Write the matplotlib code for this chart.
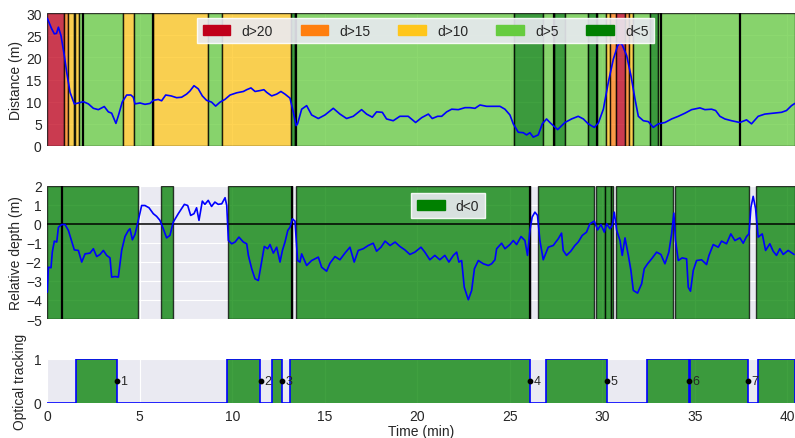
import numpy as np
import matplotlib
matplotlib.use("Agg")
import matplotlib.pyplot as plt
from matplotlib.patches import Patch
import seaborn as sns

sns.set_style("darkgrid")
plt.rcParams['font.family'] = ['Liberation Sans', 'DejaVu Sans']
plt.rcParams['axes.unicode_minus'] = True

# ---------------- data ----------------
dist_t = [0.0, 0.24, 0.38, 0.5, 0.6, 0.74, 0.92, 1.05, 1.23, 1.46, 1.68, 1.95, 2.22, 2.49, 2.76,
          3.08, 3.3, 3.48, 3.71, 3.84, 4.05, 4.29, 4.52, 4.65, 4.74, 5.01, 5.28, 5.55, 5.73, 6.0,
          6.18, 6.4, 6.69, 6.99, 7.26, 7.53, 7.71, 7.93, 8.16, 8.38, 8.61, 8.88, 9.1, 9.34, 9.6,
          9.88, 10.24, 10.6, 10.78, 11.01, 11.23, 11.5, 11.71, 11.86, 12.13, 12.4, 12.63, 12.85,
          13.12, 13.3, 13.45, 13.53, 13.75, 14.02, 14.29, 14.65, 15.01, 15.46, 15.82, 16.18,
          16.54, 16.99, 17.26, 17.57, 17.8, 18.11, 18.34, 18.7, 19.06, 19.51, 19.91, 20.24, 20.6,
          20.81, 21.1, 21.32, 21.59, 21.86, 22.22, 22.58, 22.85, 23.12, 23.39, 23.75, 24.11,
          24.47, 24.74, 25.01, 25.19, 25.46, 25.73, 25.91, 26.09, 26.27, 26.54, 26.76, 26.99,
          27.17, 27.59, 27.98, 28.34, 28.7, 28.98, 29.24, 29.57, 29.79, 30.06, 30.33, 30.6,
          30.83, 30.95, 31.08, 31.32, 31.55, 31.77, 31.95, 32.22, 32.49, 32.76, 33.03, 33.39,
          33.75, 34.11, 34.47, 34.83, 35.28, 35.55, 35.91, 36.13, 36.36, 36.63, 36.99, 37.44,
          37.8, 38.07, 38.43, 38.79, 39.24, 39.69, 39.96, 40.23, 40.41]
dist_d = [28.8, 26.4, 25.3, 25.4, 26.8, 24.9, 20.4, 16.6, 12.1, 9.5, 9.7, 10.0, 9.5, 8.5, 8.2,
          8.9, 7.7, 7.4, 5.1, 6.8, 9.9, 11.5, 11.5, 11.0, 9.5, 9.7, 9.4, 9.6, 10.3, 10.5,
          10.2, 11.5, 11.3, 10.9, 11.0, 11.7, 12.4, 13.6, 12.9, 11.3, 10.3, 9.9, 9.0, 9.9, 10.5,
          11.5, 12.0, 12.3, 12.7, 13.1, 12.3, 12.5, 12.7, 12.1, 11.3, 11.7, 12.3, 11.7,
          10.8, 7.6, 4.6, 5.0, 8.3, 9.1, 7.0, 6.2, 7.0, 8.5, 7.2, 6.2,
          6.7, 8.2, 7.2, 6.5, 7.7, 7.6, 6.1, 5.7, 6.7, 6.7, 5.3, 6.4, 7.2,
          6.2, 6.7, 6.7, 7.7, 8.3, 8.2, 8.65, 8.65, 8.5, 9.25, 8.95, 8.95,
          8.95, 8.3, 7.0, 5.0, 3.1, 3.0, 2.5, 3.0, 2.0, 2.5, 5.0, 6.1,
          5.3, 3.7, 5.3, 6.1, 6.7, 6.1, 5.0, 4.2, 5.2, 8.3, 14.4, 19.6,
          22.6, 23.3, 22.8, 20.4, 15.9, 10.6, 6.7, 5.7, 5.5, 4.2, 5.0, 5.3,
          6.1, 6.7, 7.4, 8.2, 8.6, 8.2, 8.3, 8.0, 6.7, 6.1, 5.7, 5.3,
          5.9, 5.0, 6.7, 7.2, 7.4, 7.6, 8.0, 9.1, 9.6]

depth_t = [0.0, 0.06, 0.2, 0.27, 0.38, 0.51, 0.6, 0.78, 0.96, 1.14, 1.28, 1.46, 1.68, 1.86, 2.04,
           2.31, 2.49, 2.67, 2.85, 3.03, 3.21, 3.39, 3.48, 3.66, 3.84, 4.02, 4.2, 4.38, 4.47,
           4.6, 4.74, 4.92, 5.1, 5.28, 5.5, 5.73, 5.91, 6.09, 6.27, 6.45, 6.63, 6.81, 7.08, 7.41,
           7.59, 7.75, 7.93, 8.07, 8.2, 8.38, 8.52, 8.7, 8.88, 9.06, 9.24, 9.43, 9.61, 9.7, 9.79,
           9.97, 10.15, 10.36, 10.6, 10.78, 10.87, 11.05, 11.23, 11.41, 11.55, 11.73, 11.91,
           12.04, 12.22, 12.4, 12.58, 12.71, 12.85, 13.0, 13.12, 13.25, 13.39, 13.53, 13.66,
           13.75, 14.02, 14.29, 14.65, 14.83, 15.1, 15.28, 15.55, 15.82, 16.09, 16.36, 16.59,
           16.81, 17.08, 17.35, 17.62, 17.8, 18.04, 18.26, 18.53, 18.8, 19.06, 19.33, 19.6,
           19.87, 20.2, 20.41, 20.68, 20.95, 21.22, 21.49, 21.71, 21.95, 22.13, 22.25, 22.4,
           22.54, 22.76, 22.94, 23.09, 23.3, 23.57, 23.84, 24.02, 24.2, 24.29, 24.56, 24.74,
           25.01, 25.19, 25.37, 25.61, 25.82, 25.96, 26.09, 26.21, 26.36, 26.5, 26.63, 26.81,
           27.08, 27.35, 27.62, 27.8, 27.89, 28.07, 28.3, 28.52, 28.7, 28.92, 29.15, 29.33,
           29.57, 29.75, 29.93, 30.11, 30.24, 30.42, 30.54, 30.65, 30.78, 30.96, 31.08, 31.23,
           31.41, 31.55, 31.68, 31.91, 32.13, 32.27, 32.45, 32.67, 32.94, 33.17, 33.39, 33.6,
           33.75, 33.87, 33.96, 34.11, 34.32, 34.56, 34.65, 34.77, 34.92, 35.1, 35.37, 35.64,
           35.77, 36.0, 36.27, 36.45, 36.72, 36.95, 37.17, 37.44, 37.62, 37.8, 37.93, 38.04,
           38.16, 38.29, 38.43, 38.65, 38.83, 39.06, 39.24, 39.42, 39.6, 39.78, 40.05, 40.37]
depth_r = [-3.59, -2.28, -2.31, -1.49, -0.91, -0.96, -0.18, -0.04, -0.04, -0.35, -0.79, -1.37,
           -1.4, -2.01, -1.58, -1.54, -1.31, -1.72, -1.61, -1.4, -1.66, -1.79, -2.8, -2.77, -2.8,
           -1.4, -0.67, -0.35, -0.26, -0.84, -0.56, 0.18, 0.96, 0.96, 0.84, 0.53, 0.39, 0.18,
           -0.26, -0.74, -0.61, 0.09, 0.53, 1.02, 0.96, 0.44, 0.53, 0.84, 0.18, 1.19, 1.02, 1.23,
           0.91, 1.14, 1.02, 1.05, 1.37, 0.96, -0.88, -1.05, -0.96, -0.7, -0.96, -1.05, -1.66,
           -2.36, -2.89, -2.98, -2.19, -1.19, -1.31, -1.09, -1.54, -1.23, -2.01, -1.4, -0.96,
           -0.35, -0.18, 0.26, 0.14, -1.93, -2.01, -1.58, -2.19, -1.93, -1.75, -2.28, -2.49,
           -2.07, -1.72, -1.89, -1.54, -1.23, -2.01, -1.4, -1.31, -1.14, -1.02, -1.44, -1.23,
           -0.91, -1.14, -0.96, -1.19, -1.37, -1.61, -1.49, -1.23, -1.49, -1.89, -1.66, -1.89,
           -1.66, -2.01, -1.66, -1.49, -2.01, -1.93, -3.33, -3.99, -3.5, -2.36, -1.93, -2.1,
           -2.19, -2.1, -1.89, -1.31, -1.02, -1.31, -1.09, -0.88, -1.09, -0.67, -0.88, -1.66,
           -0.35, 0.35, 0.61, 0.44, -0.88, -1.89, -1.23, -1.14, -0.79, -0.49, -1.4, -1.66, -1.44,
           -1.14, -0.96, -0.61, -0.44, 0.0, 0.14, -0.32, -0.04, -0.44, 0.0, -0.26, -0.09, 0.61,
           -0.35, -0.88, -1.66, -0.74, -1.66, -2.45, -3.5, -3.64, -3.15, -2.36, -2.1, -1.84,
           -1.49, -1.61, -2.1, -1.49, -0.53, 0.56, -0.88, -1.93, -1.79, -1.84, -3.33, -3.54,
           -2.45, -1.93, -1.89, -2.14, -1.66, -1.09, -1.23, -0.91, -1.05, -0.53, -0.88, -0.74,
           -1.02, -0.67, -0.53, 0.88, 1.44, 0.79, -0.7, -0.53, -1.4, -1.05, -1.44, -1.66, -1.31,
           -1.61, -1.4, -1.61]

categories = ['d>20', 'd>15', 'd>10', 'd>5', 'd<5']
cat_colors = ['#C0001A', '#FF7F0E', '#FFC61A', '#66CC3F', '#008000']

dist_span_start = [0.0, 0.92, 1.12, 1.42, 1.52, 1.73, 4.11, 4.70, 5.72, 8.70, 9.43, 13.15,
                   13.40, 25.23, 26.78, 27.37, 27.98, 29.24, 29.74, 30.18, 30.42, 30.72,
                   31.23, 31.44, 31.68, 32.56, 33.03]
dist_span_end = [0.92, 1.12, 1.42, 1.52, 1.73, 4.11, 4.70, 5.72, 8.70, 9.43, 13.15, 13.40,
                 25.23, 26.78, 27.37, 27.98, 29.24, 29.74, 30.18, 30.42, 30.72, 31.23,
                 31.44, 31.68, 32.56, 33.03, 40.42]
dist_span_cat = ['d>20', 'd>15', 'd>10', 'd>5', 'd>10', 'd>5', 'd>10', 'd>5', 'd>10', 'd>5',
                 'd>10', 'd<5', 'd>5', 'd<5', 'd>5', 'd<5', 'd>5', 'd<5', 'd>5', 'd>10',
                 'd>15', 'd>20', 'd>15', 'd>10', 'd>5', 'd<5', 'd>5']
dist_events = [1.93, 5.72, 13.42, 27.37, 29.74, 33.15, 37.44]

depth_span_start = [0.0, 6.15, 9.75, 13.43, 26.54, 29.66, 30.14, 30.48, 30.73, 33.93, 38.31]
depth_span_end = [4.90, 6.81, 13.21, 26.12, 29.57, 30.14, 30.46, 30.60, 33.85, 37.96, 40.42]
depth_events = [0.78, 13.21, 26.12]

track_start = [1.55, 9.70, 12.16, 13.10, 26.95, 32.40, 34.76, 38.40]
track_end = [3.75, 11.52, 12.70, 26.09, 30.24, 34.67, 37.89, 40.42]
mark_t = [3.75, 11.55, 12.70, 26.10, 30.23, 34.68, 37.87]
mark_labels = ['1', '2', '3', '4', '5', '6', '7']

XMAX = 40.42
# --------------------------------------

W, H = 795, 439
fig = plt.figure(figsize=(W / 100, H / 100), dpi=100)
L = 47.3 / W
ax1 = fig.add_axes([L, 1 - 147 / H, 1 - L, 133 / H])
ax2 = fig.add_axes([L, 1 - 320 / H, 1 - L, 133.3 / H])
ax3 = fig.add_axes([L, 1 - 404 / H, 1 - L, 44 / H])

tc = '.15'
for ax in (ax1, ax2, ax3):
    ax.set_xlim(0, XMAX)
    ax.set_xticks(range(0, 41, 5))
    ax.tick_params(labelsize=10, colors=tc, length=0, pad=4)
    for s in ax.spines.values():
        s.set_visible(False)

col = dict(zip(categories, cat_colors))
# top panel
for s, e, c in zip(dist_span_start, dist_span_end, dist_span_cat):
    ax1.axvspan(s, e, facecolor=col[c], edgecolor='k', alpha=0.75, lw=1.0, zorder=1)
for t in dist_events:
    ax1.axvline(t, color='k', lw=1.6, zorder=2)
ax1.plot(dist_t, dist_d, color='#0000FF', lw=1.2, zorder=3)
ax1.set_ylim(0, 30)
ax1.set_yticks(range(0, 31, 5))
ax1.set_xticklabels([])
ax1.set_ylabel('Distance (m)', fontsize=10, color=tc, labelpad=2)
handles = [Patch(facecolor=c, edgecolor=c) for c in cat_colors]
leg = ax1.legend(handles, categories, ncol=5, loc='upper center', bbox_to_anchor=(0.506, 0.962),
                 borderaxespad=0, fontsize=10, frameon=True, fancybox=False,
                 facecolor='#EAEAF2', edgecolor='white', framealpha=0.9)
for txt in leg.get_texts():
    txt.set_color(tc)
leg.set_zorder(10)

# middle panel
for s, e in zip(depth_span_start, depth_span_end):
    ax2.axvspan(s, e, facecolor='#008000', edgecolor='k', alpha=0.75, lw=1.0, zorder=1)
for t in depth_events:
    ax2.axvline(t, color='k', lw=1.6, zorder=2)
ax2.axhline(0, color='k', lw=1.1, zorder=2)
ax2.plot(depth_t, depth_r, color='#0000FF', lw=1.2, zorder=3)
ax2.set_ylim(-5, 2)
ax2.set_yticks(range(-5, 3))
ax2.set_xticklabels([])
ax2.set_ylabel('Relative depth (m)', fontsize=10, color=tc, labelpad=2)
leg2 = ax2.legend([Patch(facecolor='#008000', edgecolor='#008000')], ['d<0'], loc='upper center',
                  bbox_to_anchor=(0.536, 0.945), borderaxespad=0, fontsize=10, frameon=True,
                  fancybox=False, facecolor='#EAEAF2', edgecolor='white', framealpha=0.9)
for txt in leg2.get_texts():
    txt.set_color(tc)
leg2.set_zorder(10)

# bottom panel
xs = [0.0]
ys = [0]
for s, e in zip(track_start, track_end):
    xs += [s, s, e, e]
    ys += [0, 1, 1, 0]
xs.append(XMAX)
ys.append(0)
ax3.fill_between(xs, ys, 0, facecolor='#008000', alpha=0.75, lw=0, zorder=1)
ax3.plot(xs, ys, color='#0000FF', lw=1.2, zorder=3)
ax3.scatter(mark_t, [0.5] * len(mark_t), s=10, color='k', zorder=4)
for t, lab in zip(mark_t, mark_labels):
    ax3.text(t + 0.2, 0.5, lab, fontsize=9, color=tc, va='center', ha='left', zorder=5)
ax3.set_ylim(0, 1)
ax3.set_yticks([0, 1])
ax3.set_ylabel('Optical tracking', fontsize=10, color=tc, labelpad=5)
ax3.set_xlabel('Time (min)', fontsize=10, color=tc, labelpad=1)

fig.savefig('out.png', dpi=100)
